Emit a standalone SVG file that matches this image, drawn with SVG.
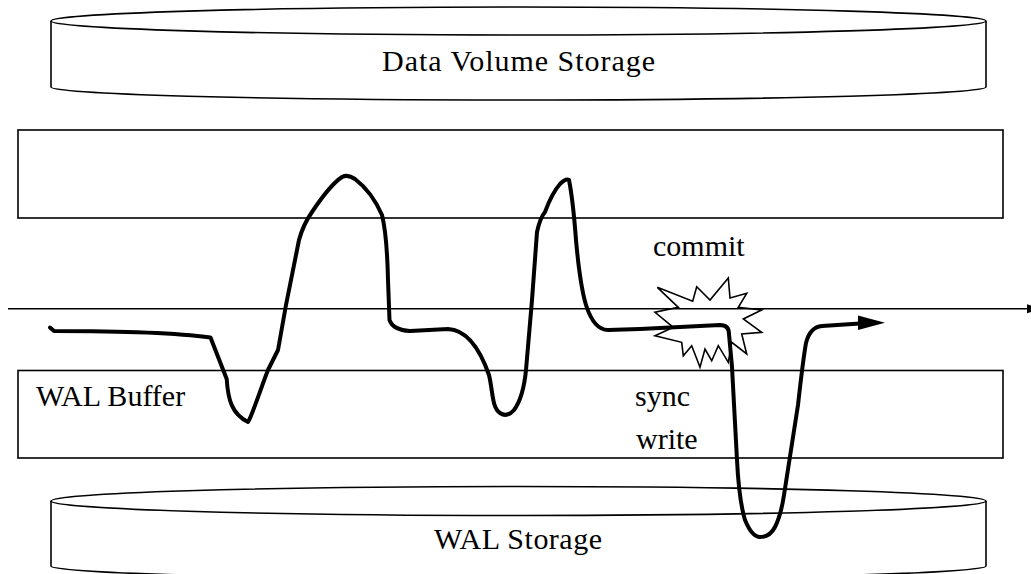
<svg xmlns="http://www.w3.org/2000/svg" width="1031" height="574" viewBox="0 0 1031 574">
<style>
.thin{fill:none;stroke:#000;stroke-width:1.6}
.fillw{fill:#fff;stroke:#000;stroke-width:1.6}
.curve{fill:none;stroke:#000;stroke-width:4;stroke-linejoin:round;stroke-linecap:round}
text{font-family:"Liberation Serif","Times New Roman",serif;font-size:30px;fill:#000}
</style>
<rect width="1031" height="574" fill="#fff"/>
<g id="data-volume-storage">
<path class="fillw" d="M51 21 L51 87 A467.5 13 0 0 0 986 87 L986 21"/>
<ellipse class="fillw" cx="518.5" cy="21" rx="467.5" ry="14"/>
<text x="382" y="70.5" textLength="273">Data Volume Storage</text>
</g>
<g id="data-buffer">
<rect class="thin" x="18" y="130" width="985" height="88"/>
</g>
<g id="wal-buffer">
<rect class="thin" x="18" y="370.5" width="985" height="87.5"/>
<text x="36" y="406">WAL Buffer</text>
</g>
<g id="wal-storage">
<path class="fillw" d="M51 501 L51 566 A467.5 13 0 0 0 986 566 L986 501"/>
<ellipse class="fillw" cx="518.5" cy="501" rx="467.5" ry="14.5"/>
<text x="434" y="549" textLength="168">WAL Storage</text>
</g>
<g id="commit">
<polygon class="thin" stroke-linejoin="miter" points="657.3,287.3 692.7,301.3 696.7,286.7 710,300 728.3,278 730,298 746.7,293.3 738.3,307.3 761.7,310 743.3,319 761.7,332.3 741.7,334 746.7,354 731.7,342.3 728.3,362.3 718.3,345.7 711.7,360.7 705,349 700,367.3 691.7,345.7 683.3,355.7 681.7,342.3 655,335.7 673.3,327.3 655,312.3 678.3,307.3"/>
<text x="653" y="256">commit</text>
</g>
<g id="sync-write">
<text x="635" y="406">sync</text>
<text x="636" y="449">write</text>
</g>
<g id="connectors">
<line class="thin" x1="8" y1="308.7" x2="1028" y2="308.7"/>
<polygon points="1027,304.2 1041,308.7 1027,313.2" fill="#000"/>
<path class="curve" d="M50 327.5 L54 331 C100 331 170 332 210.5 337.5 L226.7 379 C228 400 232 414 248 422 C252 416 262 385 268 370 L278 350 L286 305 L299 240 Q303 225 312 212 Q330 185 342 177 Q348 174 355 179 Q372 192 382 215 Q387 235 388 280 L389.5 320 Q393 330 410 331 L448 329 C470 330 482 355 489 375 C493 392 492 408 500 413 Q507 418 514 410 C520 402 524 390 526 370 L532 300 L537 232 Q540 218 545 212 Q552 193 560 184 Q566 178 569 180 Q573 200 576 240 Q580 285 586 305 Q594 330 608 330 L640 329 L720 325 Q729 325 729 334 L732 367 L737 460 Q739 500 745 520 Q752 537 760 537 Q770 537 775 527 Q781 515 784 495 L791 450 L798 405 Q803 360 806 343 Q810 327 822 326 L860 323.5"/>
<polygon points="858,315.5 885,322.7 858,330" fill="#000"/>
</g>
</svg>
